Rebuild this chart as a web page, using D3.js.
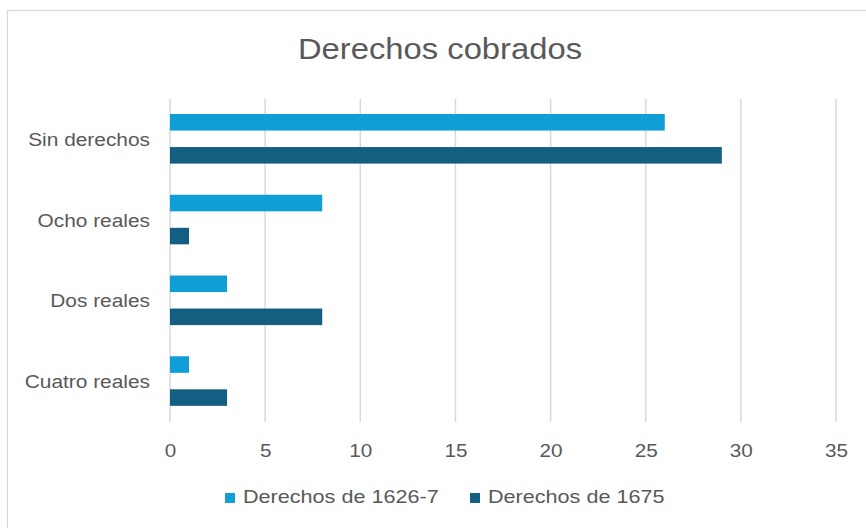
<!DOCTYPE html>
<html>
<head>
<meta charset="utf-8">
<script src="https://cdn.jsdelivr.net/npm/d3@7"></script>
<style>
  body { margin: 0; background: #fff; }
  svg text { font-family: "Liberation Sans", Arial, sans-serif; fill: #595959; }
</style>
</head>
<body>
<div id="chart"></div>
<script>
const WIDTH = 866
const HEIGHT = 528

// datos
const categorias = ["Sin derechos", "Ocho reales", "Dos reales", "Cuatro reales"]
const serie1626 = [26, 8, 3, 1]
const serie1675 = [29, 1, 8, 3]
const series = ["Derechos de 1626-7", "Derechos de 1675"]
const ticks = [0, 5, 10, 15, 20, 25, 30, 35]
const colores = ["#0f9ed5", "#135f82"]

const svg = d3.select('#chart')
    .append('svg')
        .attr('width', WIDTH)
        .attr('height', HEIGHT)

// marco del grafico
svg.append('rect')
    .attr('x', 7.5).attr('y', 10.5)
    .attr('width', WIDTH + 20).attr('height', HEIGHT + 20)
    .attr('fill', '#fff')
    .attr('stroke', '#d9d9d9')
    .attr('stroke-width', 1.2)

const xscale = d3.scaleLinear().domain([0, 35]).range([170, 836])
const yscale = d3.scaleBand().domain(categorias).range([99, 422])

// lineas de cuadricula
svg.append('g').selectAll('line').data(ticks).enter().append('line')
    .attr('x1', d => xscale(d)).attr('x2', d => xscale(d))
    .attr('y1', 99).attr('y2', 422)
    .attr('stroke', '#d9d9d9')
    .attr('stroke-width', 1.5)

// eje x (solo etiquetas)
const axisBottom = d3.axisBottom(xscale).tickValues(ticks).tickSize(0).tickPadding(0)
const xAxis = svg.append('g')
    .attr('transform', 'translate(0, 457)')
    .call(axisBottom)
xAxis.select('.domain').remove()
xAxis.selectAll('text')
    .style('font-size', '18px')
    .attr('fill', '#595959')
    .attr('y', 0)
    .attr('dy', 0)
    .attr('transform', 'scale(1.15,1)')

// etiquetas de categorias
svg.append('g').selectAll('text').data(categorias).enter().append('text')
    .attr('transform', d => `translate(150, ${yscale(d) + yscale.bandwidth() / 2 + 6.5}) scale(1.16,1)`)
    .attr('text-anchor', 'end')
    .style('font-size', '18px')
    .text(d => d)

// barras
const bw = yscale.bandwidth()
const barH = bw * 0.205
const offsets = [bw * 0.186, bw * 0.595]
;[serie1626, serie1675].forEach((serie, s) => {
    svg.append('g').selectAll('rect').data(serie).enter().append('rect')
        .attr('x', xscale(0))
        .attr('y', (d, i) => yscale(categorias[i]) + offsets[s])
        .attr('width', d => xscale(d) - xscale(0))
        .attr('height', barH)
        .attr('fill', colores[s])
})

// titulo
svg.append('text')
    .attr('transform', 'translate(440, 59) scale(1.13,1)')
    .attr('text-anchor', 'middle')
    .style('font-size', '29px')
    .text('Derechos cobrados')

// leyenda
const legendX = [225, 470]
series.forEach((nombre, i) => {
    svg.append('rect')
        .attr('x', legendX[i]).attr('y', 493)
        .attr('width', 10).attr('height', 10)
        .attr('fill', colores[i])
    svg.append('text')
        .attr('transform', `translate(${legendX[i] + 18}, 503) scale(1.2,1)`)
        .style('font-size', '18px')
        .text(nombre)
})
</script>
</body>
</html>
